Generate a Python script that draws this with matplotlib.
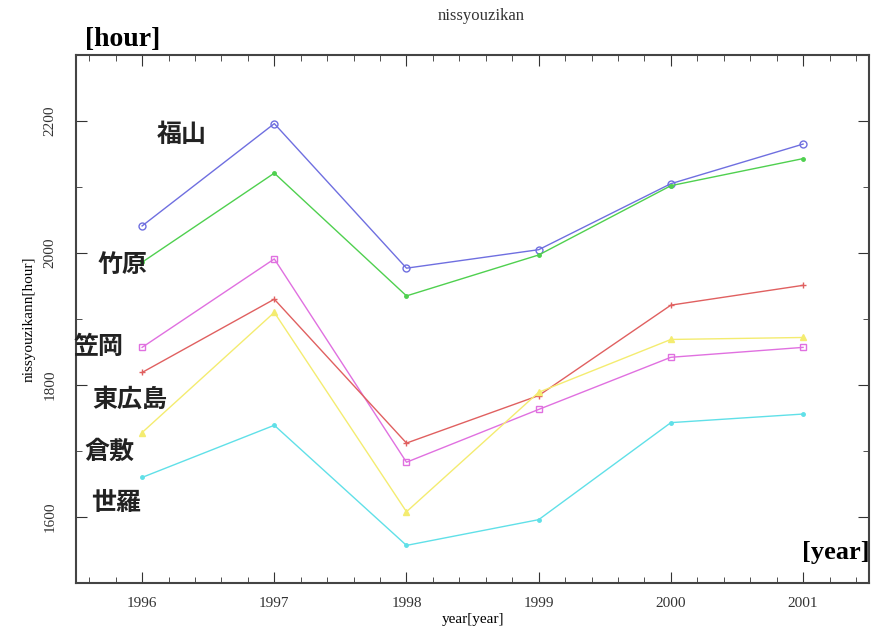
import matplotlib
matplotlib.use("Agg")
import matplotlib.pyplot as plt
from matplotlib.ticker import MultipleLocator

years = [1996, 1997, 1998, 1999, 2000, 2001]
fukuyama = [2041, 2196, 1977, 2005, 2105, 2165]
takehara = [1986, 2121, 1935, 1997, 2102, 2143]
kasaoka = [1857, 1991, 1683, 1763, 1842, 1857]
higashihiroshima = [1819, 1930, 1712, 1784, 1921, 1951]
kurashiki = [1728, 1910, 1608, 1789, 1869, 1872]
sera = [1660, 1739, 1557, 1596, 1743, 1756]

names = ["福山", "竹原", "笠岡", "東広島", "倉敷", "世羅"]
series = [fukuyama, takehara, kasaoka, higashihiroshima, kurashiki, sera]
colors = ["#6f6fe0", "#4fd04f", "#e070e0", "#e06060", "#f4ec70", "#60e0e8"]
markers = ["o", ".", "s", "+", "^", "."]
label_pos = [(1996.30, 2179), (1995.85, 1982), (1995.67, 1857),
             (1995.91, 1777), (1995.75, 1698), (1995.80, 1621)]

fig = plt.figure(figsize=(8.86, 6.29), dpi=100)
ax = fig.add_axes([0.0858, 0.0731, 0.8952, 0.8395])

for vals, c, m in zip(series, colors, markers):
    mfc = "none" if m in ("o", "s") else c
    ax.plot(years, vals, color=c, lw=1.0, marker=m, markersize=5,
            markerfacecolor=mfc, markeredgecolor=c, markeredgewidth=1.0)

cjk = ["Noto Sans CJK JP", "DejaVu Sans"]
for name, (x, y) in zip(names, label_pos):
    ax.text(x, y, name, fontsize=18, fontweight="bold", family=cjk,
            ha="center", va="center", color="#222222")

ax.set_xlim(1995.5, 2001.5)
ax.set_ylim(1500, 2300)
ax.xaxis.set_major_locator(MultipleLocator(1))
ax.xaxis.set_minor_locator(MultipleLocator(0.2))
ax.yaxis.set_major_locator(MultipleLocator(200))
ax.yaxis.set_minor_locator(MultipleLocator(100))
ax.tick_params(which="both", direction="in", top=True, right=True,
               labelsize=11, colors="#333333")
ax.tick_params(which="major", length=8)
ax.tick_params(which="minor", length=4)
ax.tick_params(axis="x", pad=10)
ax.tick_params(axis="y", pad=14)
for lab in ax.get_xticklabels():
    lab.set_family("Liberation Serif")
for lab in ax.get_yticklabels():
    lab.set_family("Liberation Serif")
    lab.set_rotation(90)
    lab.set_va("center")
for s in ax.spines.values():
    s.set_color("#444444")
    s.set_linewidth(1.5)

ax.set_xlabel("year[year]", family="Liberation Serif", fontsize=11, labelpad=2)
ax.set_ylabel("nissyouzikann[hour]", family="Liberation Serif", fontsize=11, labelpad=6)
fig.text(0.543, 0.975, "nissyouzikan", family="Liberation Serif", fontsize=12,
         ha="center", va="center", color="#333333")
fig.text(0.096, 0.937, "[hour]", family="Liberation Serif", fontsize=20,
         fontweight="bold", ha="left", va="center")
fig.text(0.905, 0.122, "[year]", family="Liberation Serif", fontsize=19,
         fontweight="bold", ha="left", va="center")

fig.savefig("out.png", dpi=100)
